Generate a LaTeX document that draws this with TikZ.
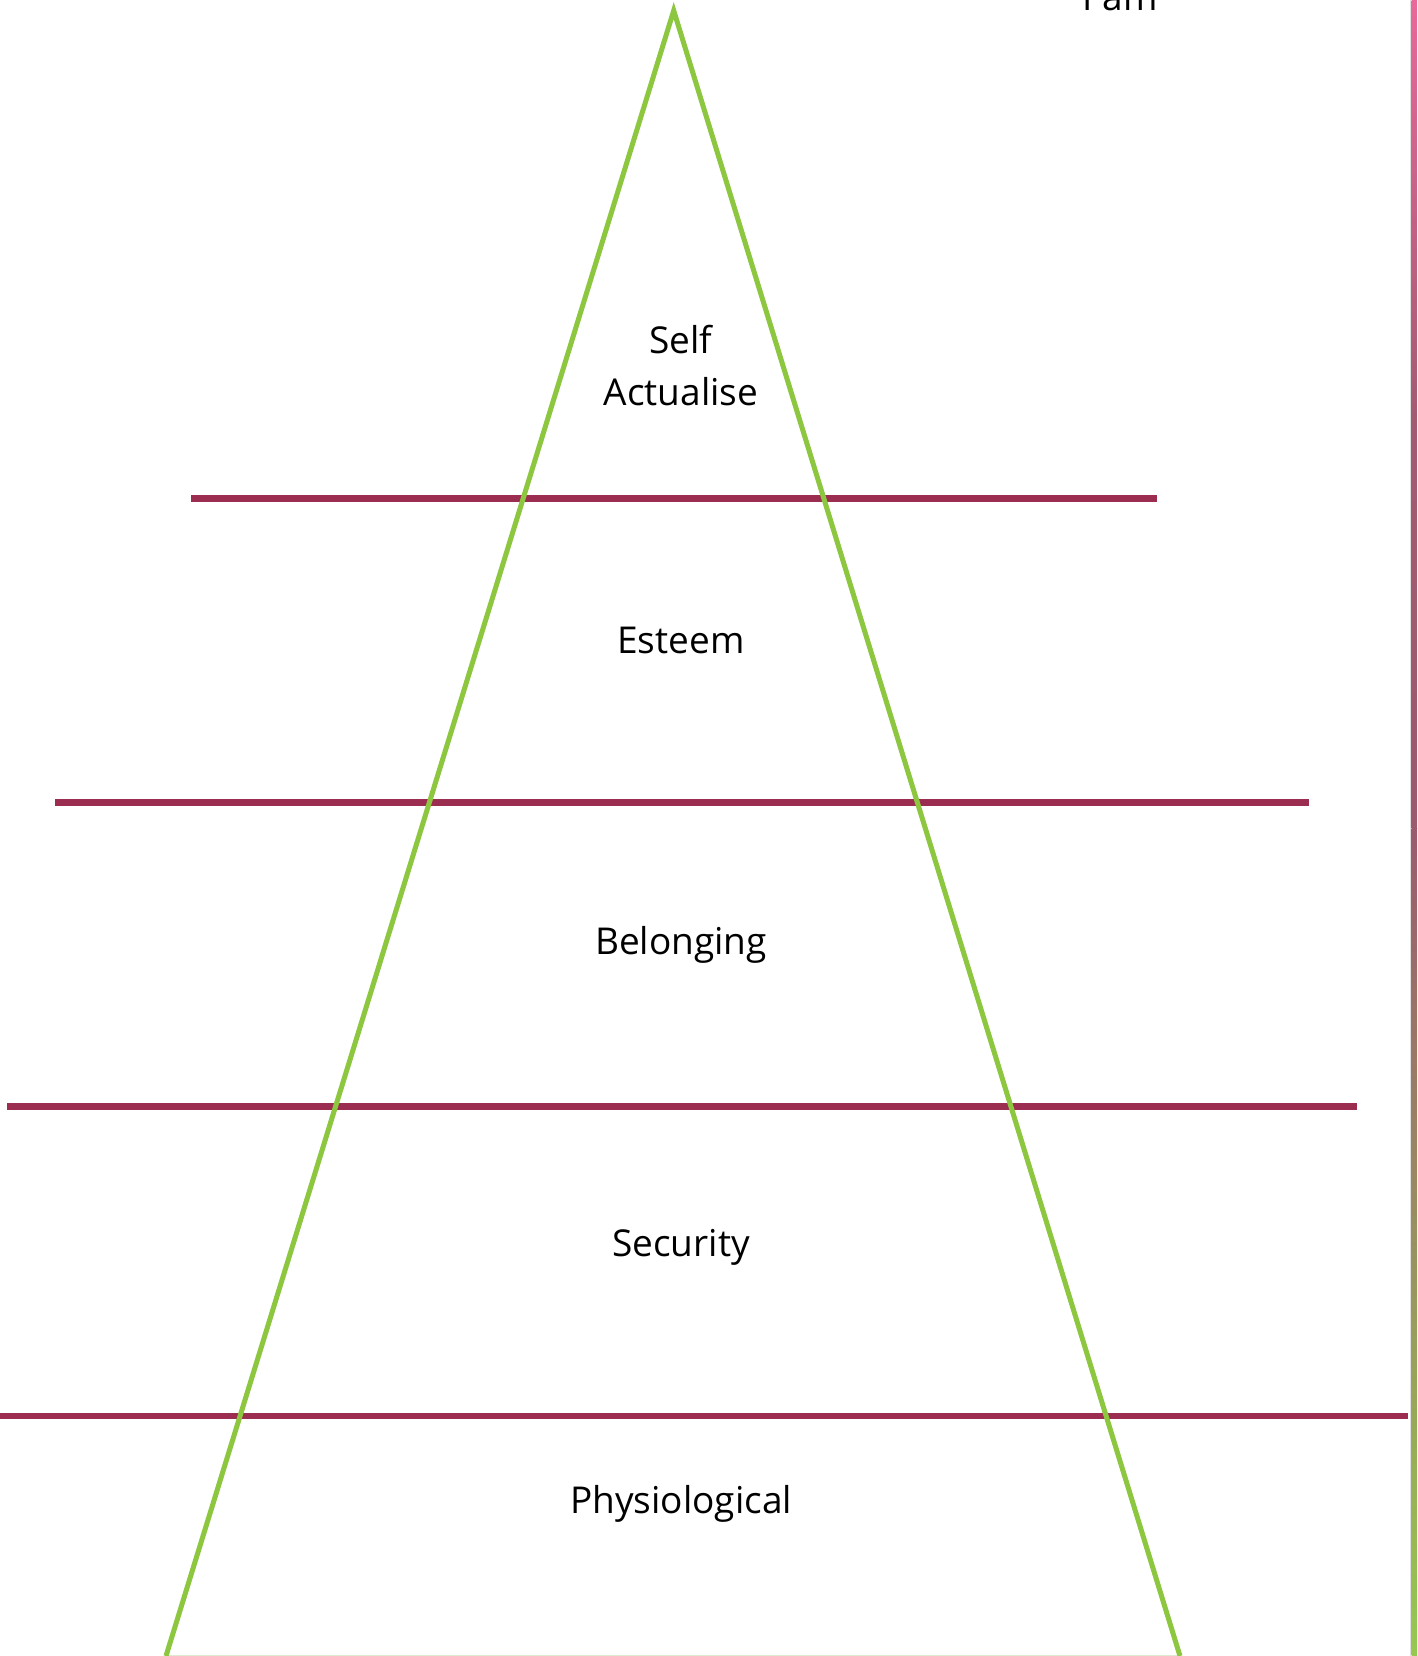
\documentclass[tikz,border=0pt]{standalone}
\usepackage{fontspec}
\setmainfont{Open Sans}
\usetikzlibrary{calc}
\definecolor{tri}{HTML}{8DC63F}
\definecolor{bar}{HTML}{9B2D50}
\definecolor{edgetop}{HTML}{E8689A}
\definecolor{edgemid}{HTML}{9B5A6E}
\definecolor{edgebot}{HTML}{96C850}
\definecolor{faint}{HTML}{DCEBD0}
\begin{document}
\begin{tikzpicture}[x=1pt,y=-1pt,
  level/.style={font=\fontsize{37}{52}\selectfont, align=center, text=black, inner sep=0pt},
  barline/.style={draw=bar, line width=6.5pt},
  triline/.style={draw=tri, line width=5pt, line join=miter}]
\useasboundingbox (0,0) rectangle (1417,1656);
\fill[white] (0,0) rectangle (1417,1656);
% right gradient edge
\shade[top color=edgetop, bottom color=edgemid, middle color=edgemid!90!edgetop] (1411.5,0) rectangle (1417,828);
\shade[top color=edgemid, bottom color=edgebot] (1411.5,828) rectangle (1417,1656);
\draw[black!12, line width=0.6pt] (1410,0) -- (1410,1656);
% faint base
\coordinate (bl) at (166,1656);
\coordinate (br) at (1180,1656);
\coordinate (apex) at (673.7,10.6);
\draw[faint, line width=2pt] (bl) -- (br);
% bars
\coordinate (b1l) at (191,498.4); \coordinate (b1r) at (1157,498.4);
\coordinate (b2l) at (55,802.5); \coordinate (b2r) at (1309,802.5);
\coordinate (b3l) at (7.4,1106.6); \coordinate (b3r) at (1357,1106.6);
\coordinate (b4l) at (0,1416); \coordinate (b4r) at (1407.5,1416);
\draw[barline] (b1l) -- (b1r);
\draw[barline] (b2l) -- (b2r);
\draw[barline] (b3l) -- (b3r);
\draw[barline] (b4l) -- (b4r);
% triangle
\draw[triline] (bl) -- (apex) -- (br);
% labels
\node[level] (self) at (681,366) {Self\\Actualise};
\node[level] (esteem) at (681,640) {Esteem};
\node[level] (belong) at (681,945) {Belonging};
\node[level] (secur) at (681,1247) {Security};
\node[level] (phys) at (681,1504) {Physiological};
\node[level, anchor=base] (iam) at (1120,11) {I am};
\end{tikzpicture}
\end{document}
